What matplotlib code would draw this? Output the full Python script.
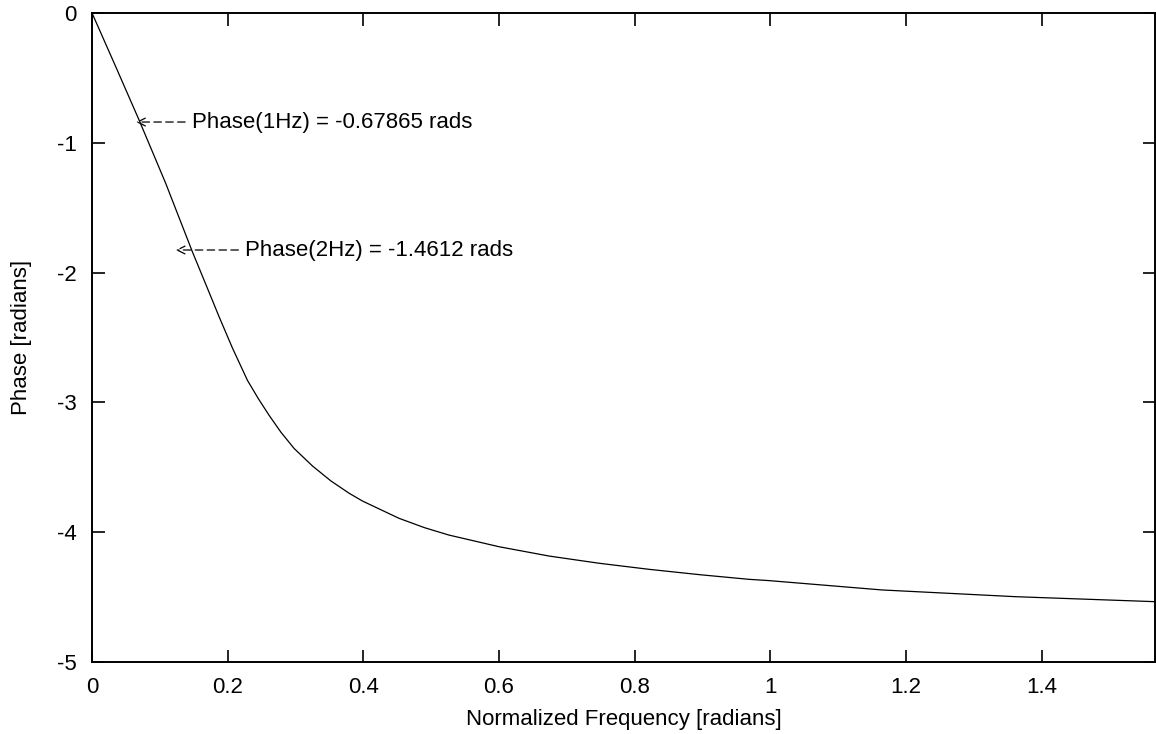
import numpy as np
import matplotlib
matplotlib.use('Agg')
import matplotlib.pyplot as plt

# Werte (Phasengang)
freq = [0.0, 0.035, 0.0693, 0.1086, 0.1479, 0.1677, 0.1873, 0.2069, 0.2291,
        0.245, 0.2611, 0.2785, 0.2979, 0.325, 0.3521, 0.379, 0.3987, 0.4525,
        0.49, 0.526, 0.600, 0.674, 0.747, 0.821, 0.895, 0.968, 0.998, 1.1645,
        1.362, 1.5655, 1.567]
phase = [0.0, -0.414, -0.824, -1.312, -1.839, -2.09, -2.34, -2.58, -2.83,
         -2.97, -3.10, -3.23, -3.355, -3.49, -3.605, -3.70, -3.76, -3.893,
         -3.965, -4.022, -4.112, -4.184, -4.239, -4.286, -4.327, -4.363, -4.373, -4.445,
         -4.497, -4.535, -4.536]

ann_text = ['Phase(1Hz) = -0.67865 rads', 'Phase(2Hz) = -1.4612 rads']
ann_xy = [(0.065, -0.84), (0.1235, -1.826)]
ann_text_xy = [(0.1475, -0.84), (0.226, -1.826)]

xticks = [0, 0.2, 0.4, 0.6, 0.8, 1.0, 1.2, 1.4]
xticklabels = ['0', '0.2', '0.4', '0.6', '0.8', '1', '1.2', '1.4']
yticks = [0, -1, -2, -3, -4, -5]

plt.rcParams['font.family'] = ['Liberation Sans', 'DejaVu Sans']
plt.rcParams['font.size'] = 16

fig = plt.figure(figsize=(11.56, 7.34), dpi=100)
ax = fig.add_axes([0.0796, 0.0981, 0.9196, 0.8842])

ax.plot(freq, phase, color='black', linewidth=0.9)

# Beschriftungen mit gestrichelten Pfeilen
for txt, xy, txy in zip(ann_text, ann_xy, ann_text_xy):
    ax.annotate(txt, xy=xy, xytext=txy, va='center', ha='left', fontsize=16,
                arrowprops=dict(arrowstyle='->', linestyle=(0, (6, 3.5)), lw=0.9,
                                color='black', shrinkA=3, shrinkB=0,
                                mutation_scale=14))

ax.set_xlim(0, 1.567)
ax.set_ylim(-5, 0)
ax.set_xticks(xticks)
ax.set_xticklabels(xticklabels)
ax.set_yticks(yticks)
ax.set_yticklabels([str(v) for v in yticks])
ax.tick_params(direction='in', length=9, width=1.2, top=True, right=True,
               labeltop=False, labelright=False, pad=11)
for s in ax.spines.values():
    s.set_linewidth(1.4)

ax.set_xlabel('Normalized Frequency [radians]', labelpad=8)
ax.set_ylabel('Phase [radians]', labelpad=18)

fig.savefig('out.png', dpi=100)
